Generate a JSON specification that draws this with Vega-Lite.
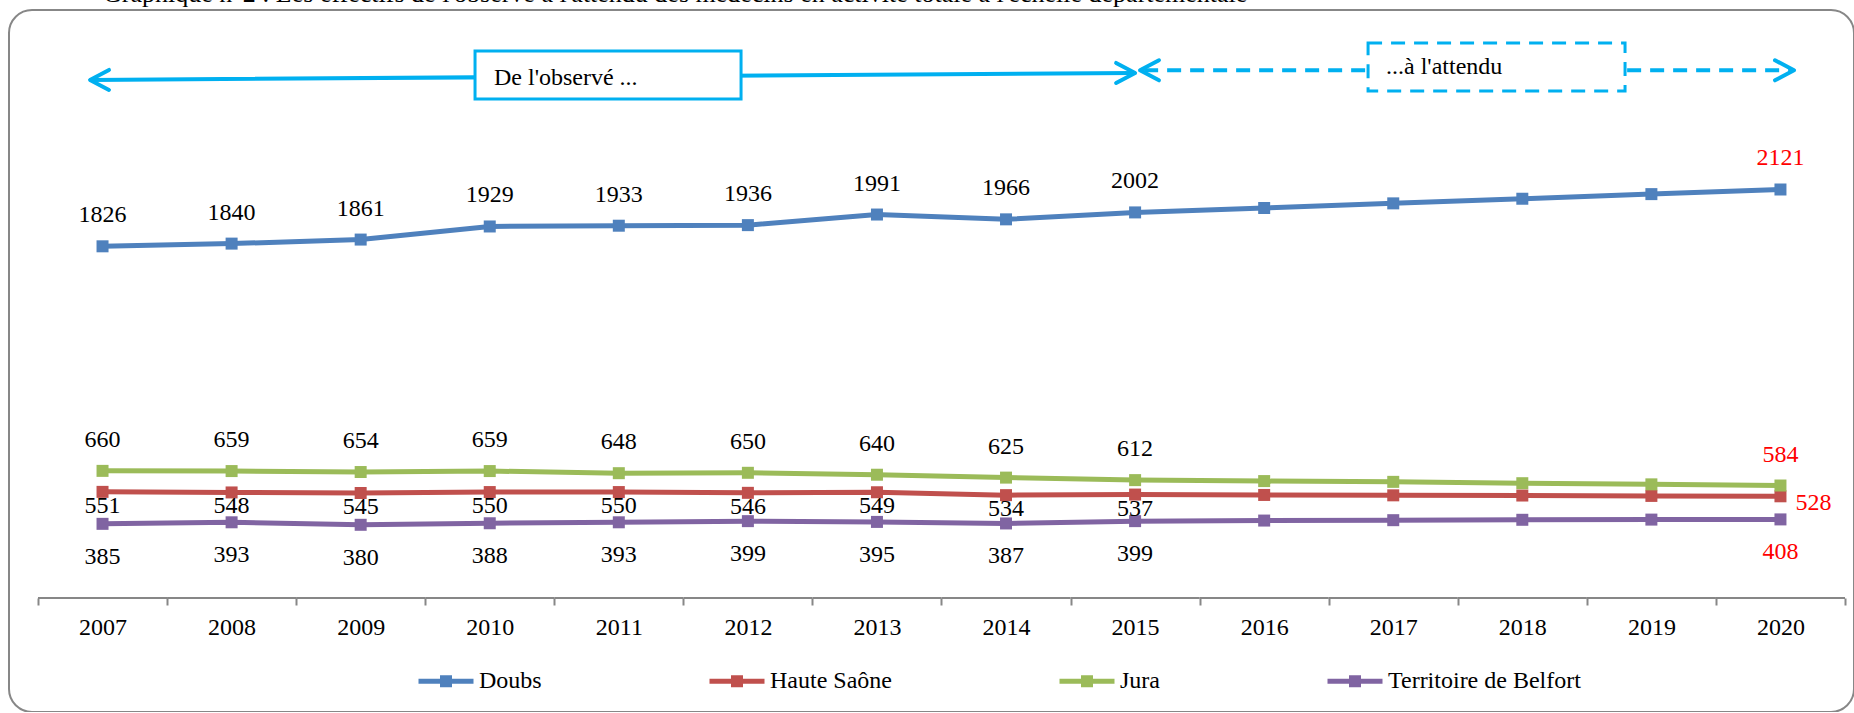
{
  "$schema": "https://vega.github.io/schema/vega-lite/v6.json",
  "width": 1845,
  "height": 702,
  "autosize": {"type": "none"},
  "padding": {"left": 9, "top": 10, "right": 0, "bottom": 0},
  "background": "white",
  "title": {
    "text": "Graphique n°2 : Les effectifs de l'observé à l'attendu des médecins en activité totale à l'échelle départementale",
    "anchor": "start",
    "frame": "group",
    "offset": 0,
    "dx": 94,
    "dy": 18,
    "baseline": "alphabetic",
    "font": "Liberation Serif",
    "fontSize": 26,
    "fontWeight": "normal",
    "color": "black"
  },
  "config": {
    "view": {"stroke": "#878787", "strokeWidth": 2, "cornerRadius": 23, "fill": "white"},
    "font": "Liberation Serif",
    "axis": {"labelFont": "Liberation Serif", "labelFontWeight": "normal"},
    "legend": {"labelFont": "Liberation Serif", "labelFontWeight": "normal"}
  },
  "datasets": {
    "series": [
      {"year": 2007, "dept": "Doubs", "value": 1826},
      {"year": 2008, "dept": "Doubs", "value": 1840},
      {"year": 2009, "dept": "Doubs", "value": 1861},
      {"year": 2010, "dept": "Doubs", "value": 1929},
      {"year": 2011, "dept": "Doubs", "value": 1933},
      {"year": 2012, "dept": "Doubs", "value": 1936},
      {"year": 2013, "dept": "Doubs", "value": 1991},
      {"year": 2014, "dept": "Doubs", "value": 1966},
      {"year": 2015, "dept": "Doubs", "value": 2002},
      {"year": 2016, "dept": "Doubs", "value": 2025},
      {"year": 2017, "dept": "Doubs", "value": 2049},
      {"year": 2018, "dept": "Doubs", "value": 2073},
      {"year": 2019, "dept": "Doubs", "value": 2097},
      {"year": 2020, "dept": "Doubs", "value": 2121},
      {"year": 2007, "dept": "Haute Saône", "value": 551},
      {"year": 2008, "dept": "Haute Saône", "value": 548},
      {"year": 2009, "dept": "Haute Saône", "value": 545},
      {"year": 2010, "dept": "Haute Saône", "value": 550},
      {"year": 2011, "dept": "Haute Saône", "value": 550},
      {"year": 2012, "dept": "Haute Saône", "value": 546},
      {"year": 2013, "dept": "Haute Saône", "value": 549},
      {"year": 2014, "dept": "Haute Saône", "value": 534},
      {"year": 2015, "dept": "Haute Saône", "value": 537},
      {"year": 2016, "dept": "Haute Saône", "value": 535},
      {"year": 2017, "dept": "Haute Saône", "value": 533},
      {"year": 2018, "dept": "Haute Saône", "value": 532},
      {"year": 2019, "dept": "Haute Saône", "value": 530},
      {"year": 2020, "dept": "Haute Saône", "value": 528},
      {"year": 2007, "dept": "Jura", "value": 660},
      {"year": 2008, "dept": "Jura", "value": 659},
      {"year": 2009, "dept": "Jura", "value": 654},
      {"year": 2010, "dept": "Jura", "value": 659},
      {"year": 2011, "dept": "Jura", "value": 648},
      {"year": 2012, "dept": "Jura", "value": 650},
      {"year": 2013, "dept": "Jura", "value": 640},
      {"year": 2014, "dept": "Jura", "value": 625},
      {"year": 2015, "dept": "Jura", "value": 612},
      {"year": 2016, "dept": "Jura", "value": 607},
      {"year": 2017, "dept": "Jura", "value": 603},
      {"year": 2018, "dept": "Jura", "value": 596},
      {"year": 2019, "dept": "Jura", "value": 590},
      {"year": 2020, "dept": "Jura", "value": 584},
      {"year": 2007, "dept": "Territoire de Belfort", "value": 385},
      {"year": 2008, "dept": "Territoire de Belfort", "value": 393},
      {"year": 2009, "dept": "Territoire de Belfort", "value": 380},
      {"year": 2010, "dept": "Territoire de Belfort", "value": 388},
      {"year": 2011, "dept": "Territoire de Belfort", "value": 393},
      {"year": 2012, "dept": "Territoire de Belfort", "value": 399},
      {"year": 2013, "dept": "Territoire de Belfort", "value": 395},
      {"year": 2014, "dept": "Territoire de Belfort", "value": 387},
      {"year": 2015, "dept": "Territoire de Belfort", "value": 399},
      {"year": 2016, "dept": "Territoire de Belfort", "value": 402},
      {"year": 2017, "dept": "Territoire de Belfort", "value": 404},
      {"year": 2018, "dept": "Territoire de Belfort", "value": 406},
      {"year": 2019, "dept": "Territoire de Belfort", "value": 407},
      {"year": 2020, "dept": "Territoire de Belfort", "value": 408}
    ],
    "arrows": [
      {"seg": "shaft1", "k": 0, "xpos": 2006.91, "v": 2690},
      {"seg": "shaft1", "k": 1, "xpos": 2014.99, "v": 2726},
      {"seg": "headL1", "k": 0, "xpos": 2007.05, "v": 2742},
      {"seg": "headL1", "k": 1, "xpos": 2006.903, "v": 2690},
      {"seg": "headL1", "k": 2, "xpos": 2007.05, "v": 2638},
      {"seg": "headR1", "k": 0, "xpos": 2014.853, "v": 2778},
      {"seg": "headR1", "k": 1, "xpos": 2015.0, "v": 2726},
      {"seg": "headR1", "k": 2, "xpos": 2014.853, "v": 2674},
      {"seg": "headL2", "k": 0, "xpos": 2015.185, "v": 2792},
      {"seg": "headL2", "k": 1, "xpos": 2015.038, "v": 2740},
      {"seg": "headL2", "k": 2, "xpos": 2015.185, "v": 2688},
      {"seg": "headR2", "k": 0, "xpos": 2019.958, "v": 2792},
      {"seg": "headR2", "k": 1, "xpos": 2020.105, "v": 2740},
      {"seg": "headR2", "k": 2, "xpos": 2019.958, "v": 2688}
    ],
    "dashed": [
      {"seg": "shaft2", "k": 0, "xpos": 2015.07, "v": 2740},
      {"seg": "shaft2", "k": 1, "xpos": 2020.08, "v": 2740}
    ],
    "boxes": [
      {"box": "observe", "x1": 2009.886, "x2": 2011.947, "v1": 2840, "v2": 2591}
    ],
    "dboxes": [
      {"box": "attendu", "x1": 2016.805, "x2": 2018.796, "v1": 2882, "v2": 2632}
    ],
    "notes": [
      {"note": "De l'observé ...", "xpos": 2010.033, "v": 2700},
      {"note": "...à l'attendu", "xpos": 2016.944, "v": 2757}
    ]
  },
  "resolve": {"scale": {"x": "independent"}},
  "layer": [
    {
      "data": {"name": "series"},
      "layer": [
        {
          "transform": [{"filter": "datum.dept == 'Doubs'"}],
          "mark": {"type": "rect", "fill": null, "stroke": "#878787", "strokeWidth": 2},
          "encoding": {
            "x": {"field": "year", "type": "ordinal", "scale": {"type": "band", "paddingInner": 0, "paddingOuter": 0.1472, "align": 0.763},
              "axis": {"orient": "bottom", "offset": -114, "domain": false, "tickBand": "extent", "tickColor": "#878787", "tickWidth": 2, "tickSize": 7, "grid": false, "title": null, "labelAngle": 0, "labelFont": "Liberation Serif", "labelFontWeight": "normal", "labelFontSize": 24, "labelColor": "black", "labelBaseline": "middle", "labelPadding": 22}},
            "y": {"datum": 0, "type": "quantitative", "scale": {"domain": [-592, 3053], "nice": false, "zero": false}, "axis": null},
            "y2": {"datum": 0}
          }
        },
        {
          "mark": {"type": "line", "strokeWidth": 5},
          "encoding": {
            "x": {"field": "year", "type": "ordinal", "bandPosition": 0.5},
            "y": {"field": "value", "type": "quantitative", "scale": {"domain": [-592, 3053], "nice": false, "zero": false}, "axis": null},
            "color": {"field": "dept", "type": "nominal",
              "scale": {"domain": ["Doubs", "Haute Saône", "Jura", "Territoire de Belfort"], "range": ["#4F81BD", "#C0504D", "#9BBB59", "#8064A2"]},
              "legend": {"orient": "none", "legendX": 407, "legendY": 641, "direction": "horizontal", "columns": 4, "title": null,
                "symbolType": "M-1,0L1,0M-0.127,-0.127L0.127,-0.127L0.127,0.127L-0.127,0.127Z",
                "symbolSize": 3025, "symbolStrokeWidth": 5,
                "labelFont": "Liberation Serif", "labelFontWeight": "normal", "labelFontSize": 24, "labelColor": "black", "labelOffset": 3, "labelLimit": 500, "columnPadding": 157,
                "encode": {"symbols": {"update": {"fill": {"scale": "color", "field": "value"}, "stroke": {"scale": "color", "field": "value"}}}}}
            }
          }
        },
        {
          "mark": {"type": "point", "shape": "square", "filled": true, "size": 144, "opacity": 1},
          "encoding": {
            "x": {"field": "year", "type": "ordinal", "bandPosition": 0.5},
            "y": {"field": "value", "type": "quantitative", "scale": {"domain": [-592, 3053], "nice": false, "zero": false}, "axis": null},
            "color": {"field": "dept", "type": "nominal", "legend": null}
          }
        },
        {
          "transform": [{"filter": "(datum.dept == 'Doubs' || datum.dept == 'Jura') && (datum.year <= 2015 || datum.year == 2020)"}],
          "mark": {"type": "text", "font": "Liberation Serif", "fontSize": 24, "baseline": "middle", "align": "center", "dy": -31},
          "encoding": {
            "x": {"field": "year", "type": "ordinal", "bandPosition": 0.5},
            "y": {"field": "value", "type": "quantitative", "scale": {"domain": [-592, 3053], "nice": false, "zero": false}, "axis": null},
            "text": {"field": "value", "type": "quantitative", "format": "d"},
            "color": {"condition": {"test": "datum.year == 2020", "value": "#FF0000"}, "value": "black"}
          }
        },
        {
          "transform": [{"filter": "datum.dept == 'Territoire de Belfort' && (datum.year <= 2015 || datum.year == 2020)"}],
          "mark": {"type": "text", "font": "Liberation Serif", "fontSize": 24, "baseline": "middle", "align": "center", "dy": 33},
          "encoding": {
            "x": {"field": "year", "type": "ordinal", "bandPosition": 0.5},
            "y": {"field": "value", "type": "quantitative", "scale": {"domain": [-592, 3053], "nice": false, "zero": false}, "axis": null},
            "text": {"field": "value", "type": "quantitative", "format": "d"},
            "color": {"condition": {"test": "datum.year == 2020", "value": "#FF0000"}, "value": "black"}
          }
        },
        {
          "transform": [{"filter": "datum.dept == 'Haute Saône' && datum.year <= 2015"}],
          "mark": {"type": "text", "font": "Liberation Serif", "fontSize": 24, "baseline": "middle", "align": "center", "dy": 14, "color": "black"},
          "encoding": {
            "x": {"field": "year", "type": "ordinal", "bandPosition": 0.5},
            "y": {"field": "value", "type": "quantitative", "scale": {"domain": [-592, 3053], "nice": false, "zero": false}, "axis": null},
            "text": {"field": "value", "type": "quantitative", "format": "d"}
          }
        },
        {
          "transform": [{"filter": "datum.dept == 'Haute Saône' && datum.year == 2020"}],
          "mark": {"type": "text", "font": "Liberation Serif", "fontSize": 24, "baseline": "middle", "align": "center", "dx": 33, "dy": 7, "color": "#FF0000"},
          "encoding": {
            "x": {"field": "year", "type": "ordinal", "bandPosition": 0.5},
            "y": {"field": "value", "type": "quantitative", "scale": {"domain": [-592, 3053], "nice": false, "zero": false}, "axis": null},
            "text": {"field": "value", "type": "quantitative", "format": "d"}
          }
        }
      ]
    },
    {
      "layer": [
        {
          "data": {"name": "arrows"},
          "mark": {"type": "line", "color": "#00B0F0", "strokeWidth": 4, "strokeCap": "round", "strokeJoin": "round"},
          "encoding": {
            "x": {"field": "xpos", "type": "quantitative", "scale": {"domain": [2006.2753, 2020.5699], "nice": false, "zero": false}, "axis": null},
            "y": {"field": "v", "type": "quantitative", "scale": {"domain": [-592, 3053], "nice": false, "zero": false}, "axis": null},
            "detail": {"field": "seg", "type": "nominal"},
            "order": {"field": "k", "type": "quantitative"}
          }
        },
        {
          "data": {"name": "dashed"},
          "mark": {"type": "line", "color": "#00B0F0", "strokeWidth": 4, "strokeDash": [14, 9]},
          "encoding": {
            "x": {"field": "xpos", "type": "quantitative", "scale": {"domain": [2006.2753, 2020.5699], "nice": false, "zero": false}, "axis": null},
            "y": {"field": "v", "type": "quantitative", "scale": {"domain": [-592, 3053], "nice": false, "zero": false}, "axis": null},
            "detail": {"field": "seg", "type": "nominal"},
            "order": {"field": "k", "type": "quantitative"}
          }
        },
        {
          "data": {"name": "boxes"},
          "mark": {"type": "rect", "fill": "white", "stroke": "#00B0F0", "strokeWidth": 3},
          "encoding": {
            "x": {"field": "x1", "type": "quantitative", "scale": {"domain": [2006.2753, 2020.5699], "nice": false, "zero": false}, "axis": null},
            "x2": {"field": "x2"},
            "y": {"field": "v1", "type": "quantitative", "scale": {"domain": [-592, 3053], "nice": false, "zero": false}, "axis": null},
            "y2": {"field": "v2"}
          }
        },
        {
          "data": {"name": "dboxes"},
          "mark": {"type": "rect", "fill": "white", "stroke": "#00B0F0", "strokeWidth": 3, "strokeDash": [14, 9]},
          "encoding": {
            "x": {"field": "x1", "type": "quantitative", "scale": {"domain": [2006.2753, 2020.5699], "nice": false, "zero": false}, "axis": null},
            "x2": {"field": "x2"},
            "y": {"field": "v1", "type": "quantitative", "scale": {"domain": [-592, 3053], "nice": false, "zero": false}, "axis": null},
            "y2": {"field": "v2"}
          }
        },
        {
          "data": {"name": "notes"},
          "mark": {"type": "text", "font": "Liberation Serif", "fontSize": 24, "align": "left", "baseline": "middle", "color": "black"},
          "encoding": {
            "x": {"field": "xpos", "type": "quantitative", "scale": {"domain": [2006.2753, 2020.5699], "nice": false, "zero": false}, "axis": null},
            "y": {"field": "v", "type": "quantitative", "scale": {"domain": [-592, 3053], "nice": false, "zero": false}, "axis": null},
            "text": {"field": "note", "type": "nominal"}
          }
        }
      ]
    }
  ]
}
